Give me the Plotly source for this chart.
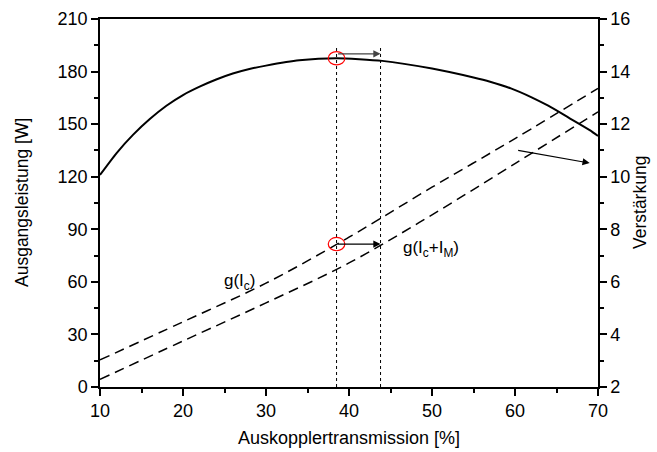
import plotly.graph_objects as go

# Output power vs. outcoupler transmission
trans_power = [10, 12, 14, 16, 18, 20, 22, 24, 26, 28, 30, 34, 38.5, 44, 50, 55, 57, 59.5, 62, 64, 66.5, 69, 70]
power_w = [121.0, 133.5, 144.0, 152.9, 160.5, 166.6, 171.4, 175.5, 178.9, 181.5, 183.4, 186.4, 187.6,
           186.1, 181.7, 176.6, 174.2, 170.4, 165.3, 160.5, 153.6, 146.6, 143.2]

# Gain curves (right axis)
trans_gain = [10, 20, 30, 40, 50, 60, 70]
gain_ic = [3.03, 4.48, 5.95, 7.70, 9.60, 11.45, 13.36]
gain_ic_im = [2.29, 3.75, 5.20, 6.72, 8.55, 10.50, 12.47]

x_opt_power = 38.5   # transmission at maximum power
x_opt_gain = 43.8    # shifted optimum

FONT = "Liberation Sans, Arial, sans-serif"
Y1 = (0, 210)
Y2 = (2, 16)


def y2_to_y1(v):
    return Y1[0] + (v - Y2[0]) / (Y2[1] - Y2[0]) * (Y1[1] - Y1[0])


fig = go.Figure()
fig.add_trace(go.Scatter(x=trans_power, y=power_w, mode="lines",
                         line=dict(color="black", width=2, shape="spline", smoothing=0.6),
                         yaxis="y", showlegend=False))
fig.add_trace(go.Scatter(x=trans_gain, y=gain_ic, mode="lines",
                         line=dict(color="black", width=1.5, dash="10px,6px", shape="spline"),
                         yaxis="y2", showlegend=False))
fig.add_trace(go.Scatter(x=trans_gain, y=gain_ic_im, mode="lines",
                         line=dict(color="black", width=1.5, dash="10px,6px", shape="spline"),
                         yaxis="y2", showlegend=False))

peak_w = max(power_w)
# g(Ic) at the power optimum, interpolated on the gain table, in left-axis units
i = 2
g_at_opt = gain_ic[i] + (x_opt_power - trans_gain[i]) / (trans_gain[i + 1] - trans_gain[i]) * (gain_ic[i + 1] - gain_ic[i])
g_at_opt_w = y2_to_y1(g_at_opt)

shapes = []
for xv in (x_opt_power, x_opt_gain):
    shapes.append(dict(type="line", xref="x", yref="y", x0=xv, x1=xv, y0=0, y1=195,
                       line=dict(color="black", width=1, dash="dot")))
for cy in (peak_w, g_at_opt_w):
    shapes.append(dict(type="circle", xref="x", yref="y",
                       x0=x_opt_power - 1.0, x1=x_opt_power + 1.0, y0=cy - 3.8, y1=cy + 3.8,
                       line=dict(color="red", width=1.2)))
fig.update_layout(shapes=shapes)

arrows = [
    dict(x=x_opt_gain, y=peak_w + 2.5, ax=x_opt_power, ay=peak_w + 2.5, color="#444444"),
    dict(x=x_opt_gain, y=g_at_opt_w, ax=x_opt_power, ay=g_at_opt_w, color="black"),
    dict(x=69.0, y=127.8, ax=60.2, ay=135.2, color="black"),
]
annotations = []
for a in arrows:
    annotations.append(dict(x=a["x"], y=a["y"], ax=a["ax"], ay=a["ay"], xref="x", yref="y",
                            axref="x", ayref="y", text="", showarrow=True, arrowhead=2,
                            arrowsize=1.2, arrowwidth=1.2, arrowcolor=a["color"]))
annotations.append(dict(x=26.8, y=60, xref="x", yref="y", text="g(I<sub>c</sub>)",
                        showarrow=False, font=dict(family=FONT, size=17, color="black")))
annotations.append(dict(x=46.3, y=79, xref="x", yref="y", text="g(I<sub>c</sub>+I<sub>M</sub>)",
                        showarrow=False, xanchor="left",
                        font=dict(family=FONT, size=17, color="black")))

# Axis titles
title_font = dict(family=FONT, size=17.5, color="black")
annotations.append(dict(x=0.5, y=0, xref="paper", yref="paper", yshift=-51,
                        xanchor="center", yanchor="middle",
                        text="Auskopplertransmission [%]", showarrow=False,
                        font=dict(family=FONT, size=18, color="black")))
annotations.append(dict(x=0, y=0.5, xref="paper", yref="paper", xshift=-78, textangle=-90,
                        xanchor="center", yanchor="middle",
                        text="Ausgangsleistung [W]", showarrow=False, font=title_font))
annotations.append(dict(x=1, y=0.5, xref="paper", yref="paper", xshift=42, textangle=-90,
                        xanchor="center", yanchor="middle",
                        text="Verstärkung", showarrow=False, font=title_font))
fig.update_layout(annotations=annotations)

axis_common = dict(showline=True, linecolor="black", linewidth=1.5, ticks="outside",
                   ticklen=7, tickwidth=1.5, tickcolor="black", showgrid=False,
                   zeroline=False, automargin=False,
                   tickfont=dict(family=FONT, size=18, color="black"))

fig.update_layout(
    width=657, height=452,
    margin=dict(l=100, r=59, t=19, b=65),
    paper_bgcolor="white", plot_bgcolor="white",
    xaxis=dict(range=[10, 70], dtick=10, tick0=10, mirror=True,
               minor=dict(dtick=5, ticklen=4, tickwidth=1.5, tickcolor="black", ticks="outside"),
               **axis_common),
    yaxis=dict(range=list(Y1), dtick=30, tick0=0,
               minor=dict(dtick=15, ticklen=4, tickwidth=1.5, tickcolor="black", ticks="outside"),
               **axis_common),
    yaxis2=dict(range=list(Y2), dtick=2, tick0=2, overlaying="y", side="right",
                minor=dict(dtick=1, ticklen=4, tickwidth=1.5, tickcolor="black", ticks="outside"),
                **axis_common),
)

fig.write_html("out.html")
